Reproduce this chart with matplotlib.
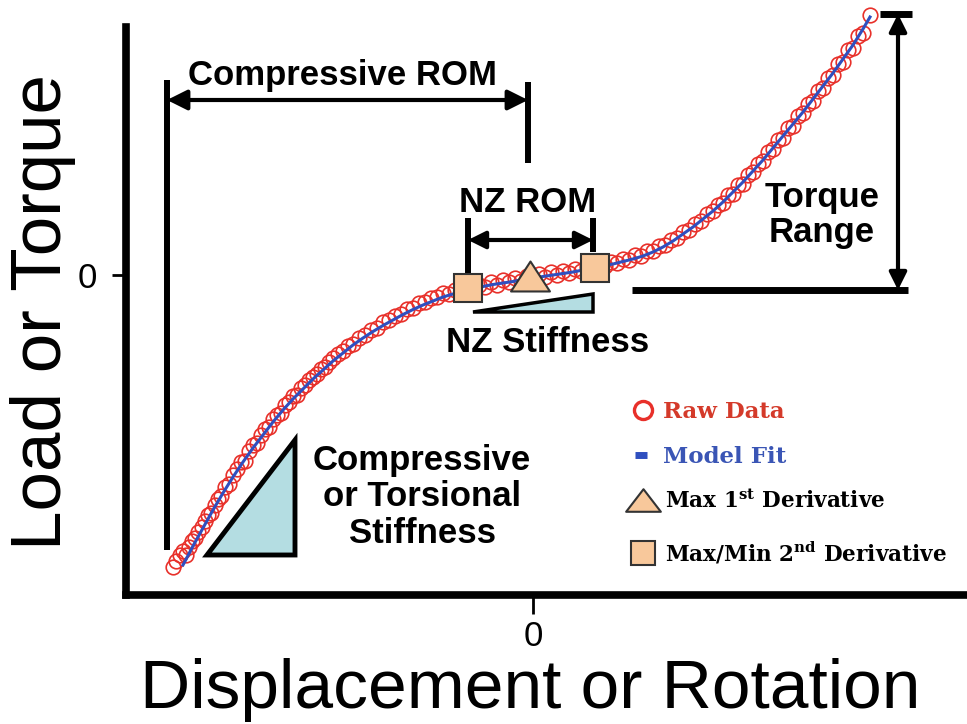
import matplotlib
matplotlib.use('Agg')
import matplotlib.pyplot as plt
from matplotlib.path import Path
from matplotlib.patches import Polygon

plt.rcParams['font.family'] = ['Liberation Sans', 'DejaVu Sans']
plt.rcParams['mathtext.fontset'] = 'dejavuserif'

# model fit (x = displacement, y = load)
fit_x = [-3.50, -3.40, -3.30, -3.20, -3.10, -3.00, -2.90, -2.80, -2.70, -2.60,
         -2.50, -2.40, -2.30, -2.20, -2.10, -2.00, -1.90, -1.80, -1.70, -1.60,
         -1.50, -1.40, -1.30, -1.20, -1.10, -1.00, -0.90, -0.80, -0.70, -0.60,
         -0.50, -0.40, -0.30, -0.20, -0.10, 0.00, 0.10, 0.20, 0.30, 0.40,
         0.50, 0.60, 0.70, 0.80, 0.90, 1.00, 1.10, 1.20, 1.30, 1.40,
         1.50, 1.60, 1.70, 1.80, 1.90, 2.00, 2.10, 2.20, 2.30, 2.40,
         2.50, 2.60, 2.70, 2.80, 2.90, 3.00, 3.10, 3.20, 3.30, 3.37]
fit_y = [-2.90, -2.71, -2.53, -2.35, -2.18, -2.02, -1.87, -1.73, -1.60, -1.47,
         -1.35, -1.24, -1.14, -1.04, -0.95, -0.86, -0.78, -0.70, -0.63, -0.565,
         -0.505, -0.45, -0.395, -0.345, -0.30, -0.26, -0.22, -0.19, -0.16, -0.135,
         -0.115, -0.095, -0.08, -0.065, -0.045, -0.03, -0.015, 0.00, 0.015, 0.03,
         0.05, 0.07, 0.09, 0.11, 0.135, 0.16, 0.19, 0.23, 0.28, 0.34,
         0.41, 0.48, 0.56, 0.64, 0.73, 0.83, 0.93, 1.04, 1.15, 1.27,
         1.39, 1.51, 1.63, 1.76, 1.89, 2.02, 2.16, 2.30, 2.46, 2.58]

# raw data circles
raw_x = [-3.60, -3.57, -3.53, -3.50, -3.47, -3.44, -3.41, -3.38, -3.35, -3.31,
         -3.28, -3.25, -3.22, -3.18, -3.15, -3.12, -3.08, -3.04, -3.00, -2.96,
         -2.92, -2.88, -2.84, -2.80, -2.76, -2.72, -2.68, -2.64, -2.60, -2.56,
         -2.52, -2.48, -2.44, -2.40, -2.36, -2.32, -2.28, -2.24, -2.20, -2.16,
         -2.12, -2.08, -2.04, -2.00,
         -1.95, -1.90, -1.85, -1.80, -1.74, -1.68, -1.62, -1.56, -1.50, -1.44,
         -1.38, -1.32, -1.26, -1.20, -1.14, -1.08, -1.02, -0.96, -0.90, -0.84,
         -0.78, -0.72, -0.66, -0.60, -0.54, -0.48, -0.42, -0.36, -0.30, -0.24,
         -0.18, -0.12, -0.06, 0.00, 0.06, 0.12, 0.18, 0.24, 0.30, 0.36,
         0.42, 0.48, 0.54, 0.60, 0.66, 0.72, 0.78, 0.84, 0.90, 0.96,
         1.02, 1.08, 1.14, 1.20, 1.26, 1.32, 1.38, 1.44, 1.50, 1.56,
         1.62, 1.68, 1.74, 1.80,
         1.85, 1.90, 1.95, 2.00, 2.05, 2.10, 2.15, 2.20, 2.25, 2.30,
         2.35, 2.40, 2.45, 2.50, 2.55, 2.60, 2.65, 2.70, 2.75, 2.80,
         2.85, 2.90, 2.95, 3.00, 3.05, 3.10, 3.15, 3.20, 3.25, 3.30, 3.37]
raw_y = [-2.92, -2.86, -2.80, -2.76, -2.80, -2.72, -2.66, -2.63, -2.57, -2.52,
         -2.46, -2.40, -2.38, -2.30, -2.24, -2.21, -2.12, -2.09, -2.00, -1.94,
         -1.87, -1.86, -1.76, -1.70, -1.68, -1.60, -1.54, -1.52, -1.44, -1.40,
         -1.38, -1.30, -1.27, -1.21, -1.20, -1.13, -1.10, -1.05, -1.02, -0.99,
         -0.94, -0.92, -0.87, -0.83,
         -0.79, -0.76, -0.71, -0.69, -0.63, -0.60, -0.55, -0.53, -0.47, -0.45,
         -0.41, -0.39, -0.34, -0.33, -0.28, -0.27, -0.23, -0.22, -0.18, -0.19,
         -0.15, -0.16, -0.12, -0.14, -0.10, -0.12, -0.07, -0.10, -0.05, -0.07,
         -0.03, -0.06, -0.01, -0.04, 0.01, -0.02, 0.03, 0.00, 0.04, 0.02,
         0.06, 0.04, 0.08, 0.06, 0.11, 0.09, 0.13, 0.12, 0.16, 0.15,
         0.20, 0.19, 0.24, 0.24, 0.29, 0.30, 0.35, 0.37, 0.43, 0.45,
         0.51, 0.54, 0.61, 0.64,
         0.70, 0.72, 0.80, 0.81, 0.90, 0.91, 1.00, 1.03, 1.11, 1.14,
         1.23, 1.26, 1.35, 1.37, 1.47, 1.49, 1.59, 1.62, 1.71, 1.74,
         1.84, 1.87, 1.97, 2.00, 2.11, 2.13, 2.25, 2.27, 2.39, 2.42, 2.60]

# neutral-zone markers
d2_x = [-0.65, 0.62]   # max/min 2nd derivative
d2_y = [-0.13, 0.07]
d1_x = [-0.03]         # max 1st derivative
d1_y = [-0.01]

peach = '#f8c89b'
teal = '#b4dde2'
red = '#e8302a'
blue = '#2f4fbf'

fig = plt.figure(figsize=(9.67, 7.24), dpi=100)
ax = fig.add_axes([126 / 967, 1 - 595 / 724, 1 - 126 / 967, 595 / 724])
ax.set_xlim(-4.07, 4.34)
ax.set_ylim(-3.20, 2.75)

for s in ['top', 'right']:
    ax.spines[s].set_visible(False)
for s in ['left', 'bottom']:
    ax.spines[s].set_linewidth(5.5)
    ax.spines[s].set_capstyle('projecting')
ax.spines['left'].set_bounds(-3.20, 2.48)

ax.set_xticks([0])
ax.set_yticks([0])
ax.tick_params(axis='x', length=14, width=2, labelsize=25, pad=4)
ax.tick_params(axis='y', length=10, width=2, labelsize=25, pad=11)

# data + fit
ax.plot(raw_x, raw_y, 'o', ms=10.5, mfc='none', mec=red, mew=1.2, zorder=3)
ax.plot(fit_x, fit_y, '-', color=blue, lw=2.2, zorder=4)

tri = Path([(-1, -0.77), (1, -0.77), (0, 0.77), (-1, -0.77)],
           [Path.MOVETO, Path.LINETO, Path.LINETO, Path.CLOSEPOLY])
tri_small = Path([(-1, -0.65), (1, -0.65), (0, 0.65), (-1, -0.65)],
                 [Path.MOVETO, Path.LINETO, Path.LINETO, Path.CLOSEPOLY])

ax.plot(d2_x, d2_y, 's', ms=20, mfc=peach, mec='#333333', mew=1.5, zorder=6)
ax.plot(d1_x, d1_y, marker=tri, ls='none', ms=28, mfc=peach, mec='#333333',
        mew=1.5, zorder=6)


def bar(xs, ys, lw=4.3):
    ax.plot(xs, ys, color='k', lw=lw, solid_capstyle='butt', zorder=5)


def arrow(p0, p1, ms=30, lw=3):
    ax.annotate('', xy=p1, xytext=p0,
                arrowprops=dict(arrowstyle='<|-|>', color='k', lw=lw,
                                mutation_scale=ms, shrinkA=0, shrinkB=0),
                zorder=5)


# Compressive ROM
bar([-3.66, -3.66], [1.95, -2.75])
bar([-0.05, -0.05], [1.93, 1.12])
arrow((-3.66, 1.75), (-0.05, 1.75))
ax.text(-1.90, 1.99, 'Compressive ROM', fontsize=25, fontweight='bold',
        ha='center', va='center')

# NZ ROM
bar([-0.65, -0.65], [0.57, 0.02])
bar([0.60, 0.60], [0.57, 0.23])
arrow((-0.65, 0.35), (0.60, 0.35), ms=26)
ax.text(-0.05, 0.73, 'NZ ROM', fontsize=25, fontweight='bold',
        ha='center', va='center')

# NZ stiffness wedge
ax.add_patch(Polygon([(-0.60, -0.37), (0.60, -0.19), (0.60, -0.37)],
                     closed=True, fc=teal, ec='k', lw=2.5, joinstyle='miter',
                     zorder=5))
ax.text(0.15, -0.68, 'NZ Stiffness', fontsize=25, fontweight='bold',
        ha='center', va='center')

# compressive / torsional stiffness
ax.add_patch(Polygon([(-3.26, -2.80), (-2.38, -1.65), (-2.38, -2.80)],
                     closed=True, fc=teal, ec='k', lw=3.5, joinstyle='miter',
                     zorder=5))
ax.text(-1.11, -2.22, 'Compressive\nor Torsional\nStiffness', fontsize=25,
        fontweight='bold', ha='center', va='center', linespacing=1.12)

# torque range
bar([3.47, 3.79], [2.61, 2.61], lw=5)
bar([0.99, 3.75], [-0.15, -0.15], lw=5)
arrow((3.65, -0.15), (3.65, 2.61), ms=26)
ax.text(2.89, 0.60, 'Torque\nRange', fontsize=25, fontweight='bold',
        ha='center', va='center', linespacing=1.1)

# hand-made legend
lx, tx = 1.10, 1.30
ax.plot([lx], [-1.35], 'o', ms=13, mfc='none', mec=red, mew=2.4, clip_on=False)
ax.text(tx, -1.37, 'Raw Data', fontsize=16.5, fontweight='bold',
        family='DejaVu Serif', color='#d43a2a', va='center')
ax.plot([lx - 0.02], [-1.80], marker='_', ms=9, mew=5, color=blue)
ax.text(tx, -1.82, 'Model Fit', fontsize=16.5, fontweight='bold',
        family='DejaVu Serif', color='#3a55b5', va='center')
ax.plot([lx], [-2.25], marker=tri_small, ls='none', ms=25, mfc=peach,
        mec='#333333', mew=1.5)
ax.text(tx + 0.02, -2.26, r'Max 1$^{\mathbf{st}}$ Derivative', fontsize=15.5,
        fontweight='bold', family='DejaVu Serif', va='center')
ax.plot([lx], [-2.78], 's', ms=17, mfc=peach, mec='#333333', mew=1.5)
ax.text(tx + 0.02, -2.78, r'Max/Min 2$^{\mathbf{nd}}$ Derivative', fontsize=15.5,
        fontweight='bold', family='DejaVu Serif', va='center')

# axis titles
fig.text(43 / 967, 1 - 312 / 724, 'Load or Torque', fontsize=51,
         rotation=90, ha='center', va='center')
fig.text(530 / 967, 1 - 690 / 724, 'Displacement or Rotation', fontsize=50,
         ha='center', va='center')

fig.savefig('out.png', dpi=100)
